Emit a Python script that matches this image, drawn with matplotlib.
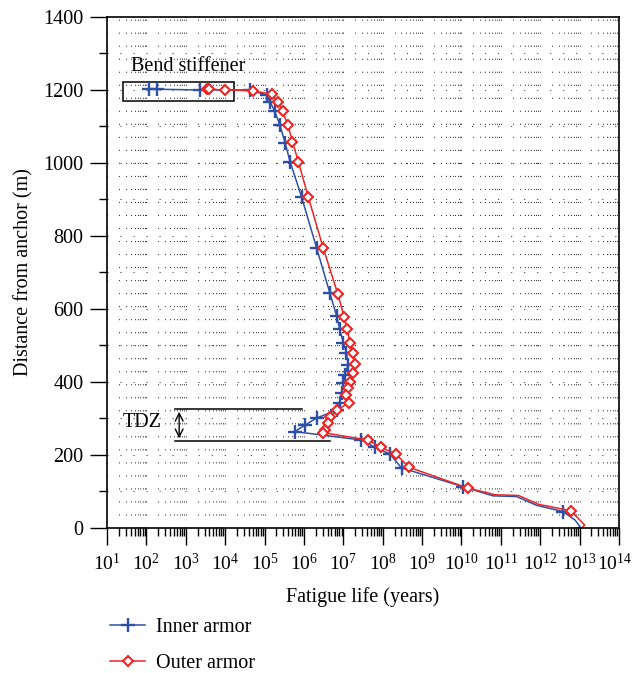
import numpy as np
import matplotlib
matplotlib.use("Agg")
import matplotlib.pyplot as plt
from matplotlib.patches import Rectangle
from matplotlib.transforms import ScaledTranslation
from matplotlib.ticker import LogLocator, LogFormatterMathtext, MultipleLocator, NullFormatter

plt.rcParams["font.family"] = ["Liberation Serif", "DejaVu Serif"]
plt.rcParams["mathtext.default"] = "regular"
plt.rcParams["font.size"] = 14.5

# fatigue life as log10(years), distance from anchor in m
inner_log_life = [2.07, 2.26, 3.36, 4.63, 5.05, 5.14, 5.26, 5.39, 5.52, 5.65, 5.94, 6.32,
                  6.66, 6.83, 6.91, 7.00, 7.08, 7.12, 7.04, 7.00, 6.96, 6.91, 6.83, 6.32,
                  6.03, 5.77, 7.46, 7.80, 8.18, 8.48, 8.77, 10.04, 10.80, 11.40, 11.91,
                  12.58, 12.88, 13.01, 12.96]
inner_dist = [1202, 1202, 1200, 1200, 1186, 1168, 1141, 1104, 1056, 1003, 907, 768,
              643, 581, 544, 508, 480, 447, 419, 396, 369, 342, 323, 301,
              282, 264, 241, 221, 203, 164, 155, 113, 88, 86, 62,
              45, 22, 4, 0]
inner_marked = [1] * 30 + [0, 1, 0, 0, 0, 1, 0, 0, 0]

outer_log_life = [3.53, 3.60, 4.00, 4.70, 5.18, 5.33, 5.46, 5.59, 5.71, 5.86, 6.11, 6.49,
                  6.86, 7.02, 7.10, 7.17, 7.24, 7.29, 7.24, 7.17, 7.12, 7.08, 7.15, 6.83,
                  6.66, 6.62, 6.53, 6.49, 7.63, 7.95, 8.33, 8.67, 8.94, 10.17, 10.85,
                  11.45, 11.95, 12.78, 12.92, 13.13, 13.05]
outer_dist = [1202, 1202, 1200, 1198, 1188, 1168, 1141, 1104, 1058, 1003, 907, 767,
              641, 579, 544, 508, 479, 449, 424, 401, 383, 364, 343, 323,
              305, 287, 268, 261, 241, 221, 203, 166, 156, 109, 91,
              89, 65, 47, 31, 8, 0]
outer_marked = [1] * 32 + [0, 1, 0, 0, 0, 1, 0, 0, 0]

fig = plt.figure(figsize=(6.35, 6.73), dpi=100)
ax = fig.add_axes([0.1685, 0.2155, 0.8063, 0.7593])

ax.set_xscale("log")
ax.set_xlim(1e1, 1e14)
ax.set_ylim(0, 1400)

# dotted grid
dots = (0, (1, 11.5))
ax.grid(True, which="both", axis="x", color="0.2", lw=0.75, linestyle=dots)
ax.grid(True, which="both", axis="y", color="0.2", lw=0.75, linestyle=dots)
ax.set_axisbelow(True)

blue = "#2d4fa6"
red = "#ee2424"
ax.plot(10 ** np.array(inner_log_life), inner_dist, "-", color=blue, lw=1.1,
        marker="+", ms=10, mew=1.7,
        markevery=[i for i, m in enumerate(inner_marked) if m], label="Inner armor")
ax.plot(10 ** np.array(outer_log_life), outer_dist, "-", color=red, lw=1.1,
        marker="D", ms=5.5, mew=1.5, mfc="white",
        markevery=[i for i, m in enumerate(outer_marked) if m], label="Outer armor")

# annotations
ax.add_patch(Rectangle((25.5, 1170), 1.66e4 - 25.5, 52, fill=False, ec="black", lw=1.1))
ax.text(40, 1263, "Bend stiffener", va="center", ha="left")
ax.plot([530, 9e5], [326, 326], color="black", lw=1.1)
ax.plot([530, 4.6e6], [238, 238], color="black", lw=1.1)
ax.annotate("", xy=(680, 238), xytext=(680, 326),
            arrowprops=dict(arrowstyle="<->", color="black", lw=1.0, mutation_scale=14))
ax.text(25.5, 288, "TDZ", va="center", ha="left")

ax.xaxis.set_major_locator(LogLocator(base=10, numticks=20))
ax.xaxis.set_major_formatter(LogFormatterMathtext())
ax.xaxis.set_minor_locator(LogLocator(base=10, subs=np.arange(2, 10), numticks=20))
ax.xaxis.set_minor_formatter(NullFormatter())
ax.yaxis.set_major_locator(MultipleLocator(200))
ax.yaxis.set_minor_locator(MultipleLocator(100))

ax.tick_params(which="major", direction="out", length=12, width=1.0, pad=5)
ax.tick_params(which="minor", direction="out", length=6, width=1.0)
ax.tick_params(axis="x", which="major", pad=6, labelsize=14)
for s in ax.spines.values():
    s.set_linewidth(1.2)

ax.set_xlabel("Fatigue life (years)", labelpad=9)
ax.set_ylabel("Distance from anchor (m)", labelpad=7)

fig.legend(loc="upper left", bbox_to_anchor=(0.158, 0.097), frameon=False,
           borderpad=0, handlelength=1.74, handletextpad=0.5, labelspacing=0.84)

# nudge the last x label so it stays inside the picture
fig.canvas.draw()
for t in ax.xaxis.get_major_ticks():
    if np.isclose(t.get_loc(), 1e14):
        t.label1.set_transform(t.label1.get_transform() +
                               ScaledTranslation(-3 / 72, 0, fig.dpi_scale_trans))

fig.savefig("out.png", dpi=100)
